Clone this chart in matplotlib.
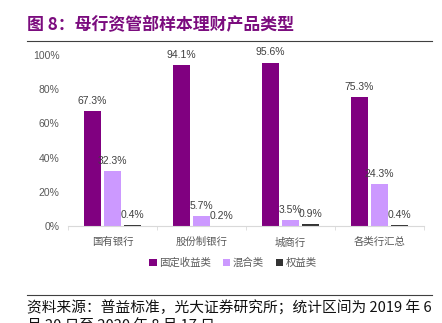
import matplotlib
matplotlib.use("Agg")
import matplotlib.pyplot as plt
import numpy as np
from matplotlib.lines import Line2D

plt.rcParams['font.family'] = ['Liberation Sans', 'Noto Sans CJK SC', 'DejaVu Sans']

categories = ["国有银行", "股份制银行", "城商行", "各类行汇总"]
series_names = ["固定收益类", "混合类", "权益类"]
fixed_income = [67.3, 94.1, 95.6, 75.3]
mixed = [32.3, 5.7, 3.5, 24.3]
equity = [0.4, 0.2, 0.9, 0.4]
yticks = [0, 20, 40, 60, 80, 100]
colors = ["#800080", "#CC99FF", "#333333"]

W, H = 442, 323
fig = plt.figure(figsize=(W / 100, H / 100), dpi=100)

# Title and rules
fig.text(27 / W, 1 - 25 / H, "图 8：母行资管部样本理财产品类型", color="#7B0C7E",
         fontsize=12.2, fontweight="bold", va="center", ha="left",
         family=['Noto Sans CJK SC', 'DejaVu Sans'])
fig.add_artist(Line2D([27 / W, 432 / W], [1 - 41 / H, 1 - 41 / H], color="#404040", lw=0.8))
fig.add_artist(Line2D([27 / W, 432 / W], [1 - 295 / H, 1 - 295 / H], color="#404040", lw=0.8))
fig.text(27 / W, 1 - 308 / H, "资料来源：普益标准，光大证券研究所；统计区间为 2019 年 6",
         fontsize=10.6, va="center", ha="left", color="#111111",
         family=['Noto Sans CJK SC', 'DejaVu Sans'])
fig.text(27 / W, 1 - 326 / H, "月 20 日至 2020 年 8 月 17 日",
         fontsize=10.6, va="center", ha="left", color="#111111",
         family=['Noto Sans CJK SC', 'DejaVu Sans'])

ax = fig.add_axes([68 / W, 1 - 226 / H, (424 - 68) / W, (226 - 55) / H])
x = np.arange(len(categories))
bw = 0.2
step = 0.225
data = [fixed_income, mixed, equity]
for i, (vals, c) in enumerate(zip(data, colors)):
    pos = x + (i - 1) * step
    ax.bar(pos, vals, width=bw, color=c, label=series_names[i], zorder=2)
    for p, v in zip(pos, vals):
        ax.text(p, v + 3, f"{v}%", ha="center", va="bottom", fontsize=7.5, color="#404040")

ax.set_xlim(-0.5, len(categories) - 0.5)
ax.set_ylim(0, 100)
ax.set_yticks(yticks)
ax.set_yticklabels([f"{t}%" for t in yticks], fontsize=7.5, color="#595959")
ax.set_xticks(x)
ax.set_xticklabels(categories, fontsize=7.5, color="#595959")
ax.set_xticks(np.arange(len(categories) + 1) - 0.5, minor=True)
ax.tick_params(axis="x", which="major", length=0, pad=8)
ax.tick_params(axis="x", which="minor", length=3, color="#D9D9D9", direction="out")
ax.tick_params(axis="y", length=0, pad=6)
for s in ["top", "right", "left"]:
    ax.spines[s].set_visible(False)
ax.spines["bottom"].set_color("#D9D9D9")

leg = fig.legend(loc="center", bbox_to_anchor=(233 / W, 1 - 263 / H), ncol=3, frameon=False,
                 fontsize=7.5, handlelength=0.7, handleheight=0.7, handletextpad=0.2, columnspacing=1.2)
for t in leg.get_texts():
    t.set_color("#595959")

fig.savefig("out.png", dpi=100)
